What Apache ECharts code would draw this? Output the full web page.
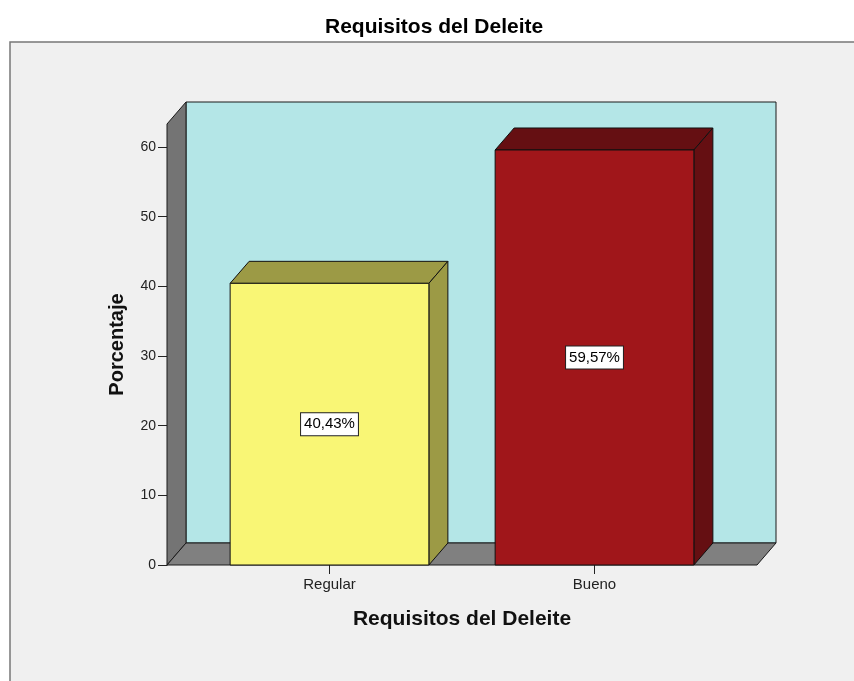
<!DOCTYPE html>
<html lang="es">
<head>
    <meta charset="UTF-8">
    <title>Requisitos del Deleite</title>
    <style>
        body { margin: 0; background: #fff; }
        #main { width: 854px; height: 681px; }
    </style>
</head>
<body>
    <div id="main"></div>
    <script src="https://cdn.jsdelivr.net/npm/echarts@6/dist/echarts.min.js"></script>
    <script>
        // datos
        var categorias = ['Regular', 'Bueno'];
        var porcentajes = [40.43, 59.57];
        var ticksY = [0, 10, 20, 30, 40, 50, 60];

        var colores = [
            { front: '#f9f675', dark: '#9c9a45' },
            { front: '#a0161a', dark: '#650f12' }
        ];

        // profundidad 3D en pixeles
        var DX = 19, DY = 22;
        var PAD = 30; // suelo sobresale de la rejilla
        var FONT = '"Liberation Sans", Arial, sans-serif';

        var myChart = echarts.init(document.getElementById('main'));

        function renderCaja(params, api) {
            var cs = params.coordSys;
            var y0 = api.coord([0, 0])[1];
            var x0 = cs.x - PAD, x1 = cs.x + cs.width + PAD;
            var top = cs.y;
            var st = { stroke: '#1a1a1a', lineWidth: 1 };
            return {
                type: 'group',
                children: [
                    { type: 'rect', shape: { x: x0 + DX, y: top - DY, width: x1 - x0, height: y0 - top },
                      style: Object.assign({ fill: '#b4e6e7' }, st) },
                    { type: 'polygon', shape: { points: [[x0, y0], [x0, top], [x0 + DX, top - DY], [x0 + DX, y0 - DY]] },
                      style: Object.assign({ fill: '#747474' }, st) },
                    { type: 'polygon', shape: { points: [[x0, y0], [x1, y0], [x1 + DX, y0 - DY], [x0 + DX, y0 - DY]] },
                      style: Object.assign({ fill: '#808080' }, st) }
                ]
            };
        }

        function renderBarra(params, api) {
            var i = api.value(0);
            var v = api.value(1);
            var p = api.coord([i, v]);
            var base = api.coord([i, 0])[1];
            var w = api.size([1, 0])[0] * 0.75;
            var xa = p[0] - w / 2, xb = p[0] + w / 2, yt = p[1];
            var c = colores[params.dataIndex];
            var st = { stroke: '#111', lineWidth: 1 };
            var texto = v.toFixed(2).replace('.', ',') + '%';
            return {
                type: 'group',
                children: [
                    { type: 'polygon', shape: { points: [[xa, yt], [xb, yt], [xb + DX, yt - DY], [xa + DX, yt - DY]] },
                      style: Object.assign({ fill: c.dark }, st) },
                    { type: 'polygon', shape: { points: [[xb, yt], [xb + DX, yt - DY], [xb + DX, base - DY], [xb, base]] },
                      style: Object.assign({ fill: c.dark }, st) },
                    { type: 'rect', shape: { x: xa, y: yt, width: w, height: base - yt },
                      style: Object.assign({ fill: c.front }, st) },
                    { type: 'text', x: p[0], y: (yt + base) / 2,
                      style: { text: texto, fill: '#000', font: '15px ' + FONT, align: 'center', verticalAlign: 'middle',
                               backgroundColor: '#fff', borderColor: '#222', borderWidth: 1, padding: [4, 3, 3, 3] } }
                ]
            };
        }

        var option = {
            backgroundColor: '#fff',
            animation: false,
            title: {
                text: 'Requisitos del Deleite',
                left: 320,
                top: 12,
                textStyle: { fontFamily: FONT, fontSize: 21, fontWeight: 'bold', color: '#000' }
            },
            graphic: [{
                type: 'rect', z: -10,
                shape: { x: 10, y: 42, width: 900, height: 700 },
                style: { fill: '#f0f0f0', stroke: '#777', lineWidth: 1.5 }
            }],
            grid: { left: 197, right: 127, top: 124, bottom: 116 },
            xAxis: {
                type: 'category',
                data: categorias,
                name: 'Requisitos del Deleite',
                nameLocation: 'middle',
                nameGap: 44,
                nameTextStyle: { fontFamily: FONT, fontSize: 21, fontWeight: 'bold', color: '#111' },
                axisLine: { show: false },
                axisTick: { show: true, alignWithLabel: true, length: 9, lineStyle: { color: '#222' } },
                axisLabel: { margin: 12, fontFamily: FONT, fontSize: 15, color: '#222' },
                splitLine: { show: false }
            },
            yAxis: {
                type: 'value',
                min: 0,
                max: 63.3,
                offset: PAD,
                name: 'Porcentaje',
                nameLocation: 'middle',
                nameGap: 40,
                nameTextStyle: { fontFamily: FONT, fontSize: 20, fontWeight: 'bold', color: '#111' },
                axisLine: { show: true, lineStyle: { color: '#111' } },
                axisTick: { show: true, length: 9, customValues: ticksY, lineStyle: { color: '#222' } },
                axisLabel: { margin: 11, customValues: ticksY, fontFamily: FONT, fontSize: 14, color: '#222' },
                splitLine: { show: false }
            },
            series: [
                {
                    type: 'custom',
                    renderItem: renderCaja,
                    data: [[0, 0]],
                    clip: false,
                    z: 1,
                    silent: true
                },
                {
                    type: 'custom',
                    renderItem: renderBarra,
                    data: porcentajes.map(function (v, i) { return [i, v]; }),
                    clip: false,
                    z: 2
                }
            ]
        };

        myChart.setOption(option);
    </script>
</body>
</html>
